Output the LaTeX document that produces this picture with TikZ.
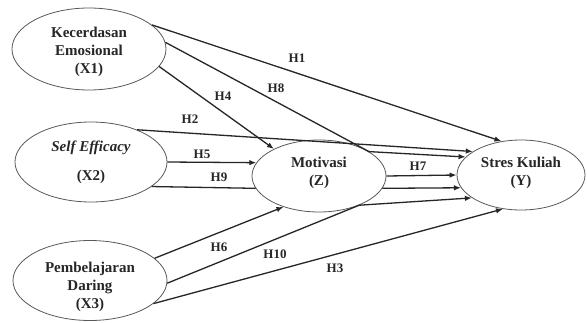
\documentclass[tikz,border=0pt]{standalone}
\usepackage{fontspec}
\setmainfont{Liberation Serif}
\usetikzlibrary{shapes.geometric,arrows.meta}
\begin{document}
\begin{tikzpicture}[x=1pt,y=-1pt,
  ell/.style={ellipse,draw=black!65,line width=0.8pt,inner sep=0pt},
  txt/.style={font=\fontsize{15}{18}\selectfont\bfseries,align=center,inner sep=0pt,text=black!85},
  lab/.style={font=\fontsize{13}{15}\selectfont\bfseries,inner sep=0pt,text=black!85},
  arr/.style={line width=1.3pt,draw=black!85,-{Latex[length=7pt,width=5.5pt]}},
  seg/.style={line width=1.3pt,draw=black!85}]
\useasboundingbox[fill=white] (0,0) rectangle (587,322);
% ellipses
\node[ell,minimum width=154pt,minimum height=82pt] (X1) at (89,49) {};
\node[ell,minimum width=152pt,minimum height=80pt] (X2) at (91,162) {};
\node[ell,minimum width=154pt,minimum height=80pt] (X3) at (90,280.5) {};
\node[ell,minimum width=134pt,minimum height=72pt] (Z) at (319,176) {};
\node[ell,minimum width=128pt,minimum height=70pt] (Y) at (521,175) {};
% texts
\node[txt] (X1t) at (89,51.5) {Kecerdasan\\Emosional\\(X1)};
\node[txt] (X2t) at (91,162.5) {\textit{Self Efficacy}\\[11pt](X2)};
\node[txt] (X3t) at (90,286.5) {Pembelajaran\\Daring\\(X3)};
\node[txt] (Zt) at (319,172.5) {Motivasi\\(Z)};
\node[txt] (Yt) at (521,173) {Stres Kuliah\\(Y)};
% connectors
\draw[arr] (X1.21) -- (Y.120);
\draw[seg] (X1.5) -- (Z.26);
\draw[arr] (Z.26) -- (Y.162);
\draw[arr] (X1.-14) -- (Z.149);
\draw[arr] (X2.35) -- (Y.154);
\draw[arr] (X2.east) -- (Z.168);
\draw[seg] (X2.-22) -- (Z.191);
\draw[arr] (Z.-11) -- (Y.192);
\draw[arr] (Z.east) -- (Y.west);
\draw[arr] (X3.19) -- (Z.221);
\draw[seg] (X3.-2) -- (Z.-36);
\draw[arr] (Z.-36) -- (Y.205);
\draw[arr] (X3.-20) -- (Y.242);
% labels
\node[lab] (h1) at (297,58) {H1};
\node[lab] (h8) at (276,88) {H8};
\node[lab] (h4) at (223,96) {H4};
\node[lab] (h2) at (190,119) {H2};
\node[lab] (h5) at (202,154) {H5};
\node[lab] (h9) at (219,177) {H9};
\node[lab] (h7) at (418,166) {H7};
\node[lab] (h6) at (219,247) {H6};
\node[lab] (h10) at (275,254) {H10};
\node[lab] (h3) at (335,268) {H3};
\end{tikzpicture}
\end{document}
